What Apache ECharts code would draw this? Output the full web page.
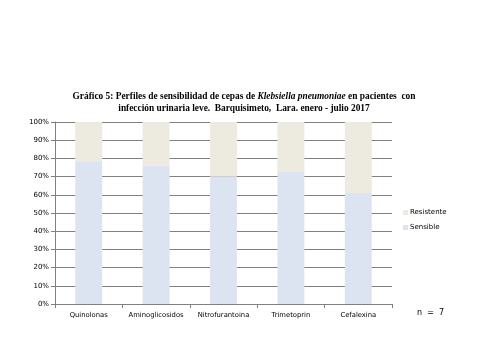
<!DOCTYPE html>
<html><head><meta charset="utf-8">
<script src="https://cdn.jsdelivr.net/npm/echarts@6/dist/echarts.min.js"></script>
<style>html,body{margin:0;padding:0;background:#fff}#c{width:480px;height:360px}</style>
</head><body><div id="c"></div>
<script>
var categories = ['Quinolonas', 'Aminoglicosidos', 'Nitrofurantoina', 'Trimetoprin', 'Cefalexina'];
var sensible = [78, 76, 70, 73, 61];
var resistente = [22, 24, 30, 27, 39];
var yTicks = [0, 10, 20, 30, 40, 50, 60, 70, 80, 90, 100];

var chart = echarts.init(document.getElementById('c'), null, {renderer: 'canvas'});
chart.setOption({
  animation: false,
  backgroundColor: '#fff',
  title: {
    text: '{b|Gráfico 5: Perfiles de sensibilidad de cepas de }{i|Klebsiella pneumoniae}{b| en pacientes  con}\n{b|infección urinaria leve.  Barquisimeto,  Lara. enero - julio 2017}',
    left: 239, top: 86, textAlign: 'center',
    textStyle: {
      rich: {
        b: {fontFamily: 'Liberation Serif', fontWeight: 'bold', fontSize: 9.4, color: '#000', lineHeight: 12},
        i: {fontFamily: 'Liberation Serif', fontWeight: 'bold', fontStyle: 'italic', fontSize: 9.4, color: '#000', lineHeight: 12}
      }
    }
  },
  grid: {left: 55, right: 88, top: 122, bottom: 56, containLabel: false},
  legend: {
    orient: 'vertical', left: 398, top: 204, itemWidth: 5, itemHeight: 5, itemGap: 8,
    icon: 'rect',
    data: ['Resistente', 'Sensible'],
    textStyle: {fontFamily: 'DejaVu Sans', fontSize: 7, color: '#000', padding: [0,0,0,-3]}
  },
  graphic: [{type: 'text', left: 417, top: 309, style: {text: 'n  =  7', fontFamily: 'DejaVu Sans', fontSize: 8, fill: '#000'}}],
  xAxis: {
    type: 'category', data: categories,
    axisLine: {lineStyle: {color: '#808080', width: 1}},
    axisTick: {show: true, length: 4, lineStyle: {color: '#808080'}},
    axisLabel: {interval: 0, fontFamily: 'DejaVu Sans', fontSize: 6.8, color: '#000', margin: 8}
  },
  yAxis: {
    type: 'value', min: 0, max: 100, interval: 10,
    axisLine: {show: true, lineStyle: {color: '#808080', width: 1}},
    axisTick: {show: true, length: 4, lineStyle: {color: '#808080'}},
    splitLine: {lineStyle: {color: '#808080', width: 1}},
    axisLabel: {fontFamily: 'DejaVu Sans', fontSize: 7, color: '#000', margin: 6,
      formatter: function (v) { return yTicks.indexOf(v) >= 0 ? v + '%' : ''; }}
  },
  series: [
    {name: 'Sensible', type: 'bar', stack: 's', data: sensible, barWidth: '40%', itemStyle: {color: '#DBE4F0'}},
    {name: 'Resistente', type: 'bar', stack: 's', data: resistente, barWidth: '40%', itemStyle: {color: '#EDEAE0'}}
  ]
});
</script></body></html>
